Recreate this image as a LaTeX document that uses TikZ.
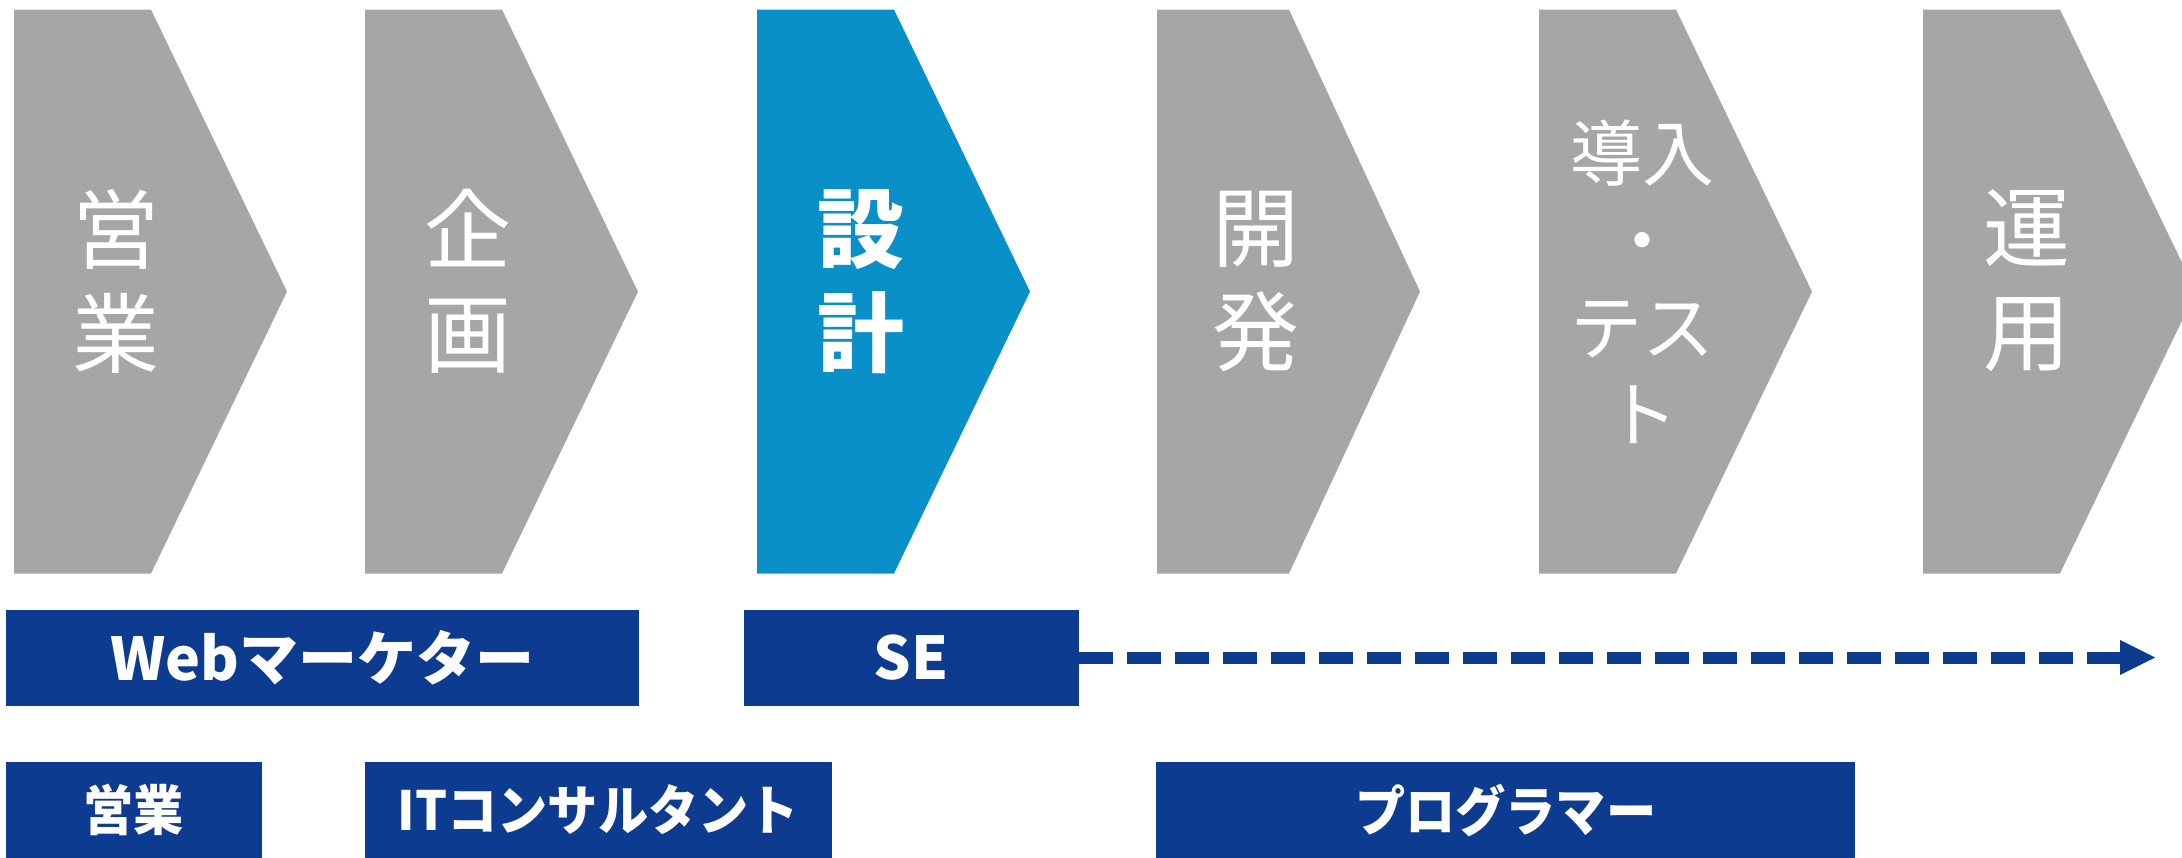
\documentclass[tikz,border=0pt]{standalone}
\usepackage{fontspec}
\newfontfamily\jpfont{Noto Sans CJK JP}
\newfontfamily\jpnarrow{Noto Sans CJK JP}[FakeStretch=0.93]
\usetikzlibrary{arrows.meta}
\definecolor{chgray}{HTML}{A6A6A6}
\definecolor{chblue}{HTML}{0A90C8}
\definecolor{navy}{HTML}{0D3B8F}
\tikzset{
  chev/.style={fill=chgray},
  chevsel/.style={fill=chblue},
  chtext/.style={text=white, font=\jpfont\fontsize{87}{104}\selectfont, align=center, inner sep=0pt},
  chtextsel/.style={chtext, font=\jpfont\bfseries\fontsize{87}{104}\selectfont},
  chtextsmall/.style={chtext, font=\jpfont\fontsize{72}{87}\selectfont},
  rolebox/.style={fill=navy, text=white, inner sep=0pt, minimum height=96pt,
    font=\jpfont\bfseries\fontsize{59}{64}\selectfont},
  rolelow/.style={rolebox, font=\jpnarrow\bfseries\fontsize{54}{60}\selectfont},
  dasharrow/.style={draw=navy, line width=12pt, dash pattern=on 34.6pt off 13.4pt,
    -{Triangle[length=35pt,width=35pt,line width=0pt]}},
}
\begin{document}
\begin{tikzpicture}[x=1pt,y=-1pt]
\useasboundingbox (0,0) rectangle (2182,858);
\clip (0,0) rectangle (2182,858);
% chevrons
\fill[chev]    (14,9.6)   -- (151,9.6)  -- (287,291.6)  -- (151,573.5)  -- (14,573.5)   -- cycle;
\fill[chev]    (365,9.6)  -- (502,9.6)  -- (638,291.6)  -- (502,573.5)  -- (365,573.5)  -- cycle;
\fill[chevsel] (757,9.6)  -- (894,9.6)  -- (1030,291.6) -- (894,573.5)  -- (757,573.5)  -- cycle;
\fill[chev]    (1157,9.6) -- (1289,9.6) -- (1420,291.6) -- (1289,573.5) -- (1157,573.5) -- cycle;
\fill[chev]    (1539,9.6) -- (1676,9.6) -- (1812,291.6) -- (1676,573.5) -- (1539,573.5) -- cycle;
\fill[chev]    (1923,9.6) -- (2060,9.6) -- (2196,291.6) -- (2060,573.5) -- (1923,573.5) -- cycle;
% chevron labels
\node[chtext]      (eigyo)    at (115.6,281) {営\\業};
\node[chtext]      (kikaku)   at (467.8,281) {企\\画};
\node[chtextsel]   (sekkei)   at (861,281.5) {設\\計};
\node[chtext]      (kaihatsu) at (1255.6,281.5) {開\\発};
\node[chtextsmall] (donyu)    at (1642,282)  {導入\\・\\テス\\ト};
\node[chtext]      (unyo)     at (2027,281)  {運\\用};
% role boxes
\node[rolebox, minimum width=633pt]   (web)   at (322.2,657.5) {Webマーケター};
\node[rolebox, minimum width=334.6pt] (se)    at (911.3,657.5) {SE};
\node[rolelow, minimum width=256.2pt] (sales) at (133.7,810)   {営業};
\node[rolelow, minimum width=466.6pt] (itc)   at (598.3,810)   {ITコンサルタント};
\node[rolelow, minimum width=698.6pt] (prog)  at (1505.7,810)  {プログラマー};
% dashed arrow
\coordinate (arrowend) at (2155,657.5);
\draw[dasharrow] (se.east) -- (arrowend);
\end{tikzpicture}
\end{document}
